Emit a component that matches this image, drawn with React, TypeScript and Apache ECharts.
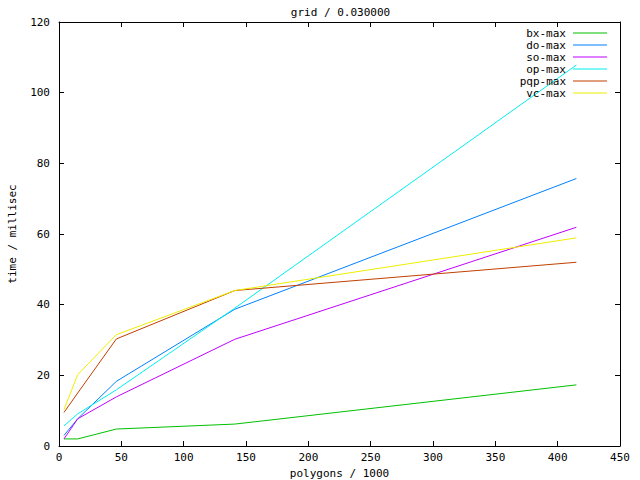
import React, { useEffect, useRef } from "react";
import * as echarts from "echarts";

const polygons = [4, 15, 46, 141, 415];
const seriesNames = ["bx-max", "do-max", "so-max", "op-max", "pqp-max", "vc-max"];
const bxMax = [2, 2, 4.8, 6.2, 17.3];
const doMax = [3, 7.7, 18.3, 38.7, 75.7];
const soMax = [2, 7.7, 13.9, 30.2, 61.9];
const opMax = [5.7, 9.1, 15.9, 39, 107.8];
const pqpMax = [9.5, 15, 30.3, 44, 52];
const vcMax = [10.3, 20.2, 31.5, 44, 58.9];
const seriesColors = ["#00c000", "#0080ff", "#c000ff", "#00eeee", "#c04000", "#eeee00"];

const titleText = "grid / 0.030000";
const xName = "polygons / 1000";
const yName = "time / millisec";

const FONT = "DejaVu Sans Mono";

export default function App() {
  const ref = useRef<HTMLDivElement>(null);
  useEffect(() => {
    document.body.style.margin = "0";
    const chart = echarts.init(ref.current!, null, { renderer: "svg" });
    const allValues = [bxMax, doMax, soMax, opMax, pqpMax, vcMax];
    const tickCommon = {
      inside: true,
      length: 5,
      lineStyle: { color: "#000", width: 1 },
    };
    const lineCommon = { show: true, onZero: false, lineStyle: { color: "#000", width: 1 } };
    chart.setOption({
      animation: false,
      backgroundColor: "#fff",
      grid: { left: 59, right: 20, top: 22, bottom: 34, containLabel: false, outerBoundsMode: "none" },
      graphic: [
        {
          type: "text",
          x: 340.5,
          y: 12,
          style: {
            text: titleText,
            fontFamily: FONT,
            fontSize: 11,
            fill: "#000",
            textAlign: "center",
            textVerticalAlign: "middle",
          },
        },
      ],
      legend: {
        orient: "vertical",
        right: 33,
        top: 27,
        padding: 0,
        align: "right",
        itemWidth: 34,
        itemHeight: 1,
        itemGap: 0,
        icon: "rect",
        data: seriesNames,
        textStyle: {
          fontFamily: FONT,
          fontSize: 11,
          color: "#000",
          lineHeight: 12,
          padding: [0, 2, 0, 0],
        },
      },
      xAxis: [
        {
          type: "value",
          min: 0,
          max: 450,
          interval: 50,
          position: "bottom",
          name: xName,
          nameLocation: "middle",
          nameGap: 21,
          nameTextStyle: { fontFamily: FONT, fontSize: 11, color: "#000", verticalAlign: "top" },
          axisLine: lineCommon,
          axisTick: tickCommon,
          splitLine: { show: false },
          axisLabel: { fontFamily: FONT, fontSize: 11, color: "#000", margin: 6 },
        },
        {
          type: "value",
          min: 0,
          max: 450,
          interval: 50,
          position: "top",
          axisLine: lineCommon,
          axisTick: tickCommon,
          splitLine: { show: false },
          axisLabel: { show: false },
        },
      ],
      yAxis: [
        {
          type: "value",
          min: 0,
          max: 120,
          interval: 20,
          position: "left",
          name: yName,
          nameLocation: "middle",
          nameGap: 41,
          nameRotate: 90,
          nameTextStyle: { fontFamily: FONT, fontSize: 11, color: "#000" },
          axisLine: lineCommon,
          axisTick: tickCommon,
          splitLine: { show: false },
          axisLabel: { fontFamily: FONT, fontSize: 11, color: "#000", margin: 9 },
        },
        {
          type: "value",
          min: 0,
          max: 120,
          interval: 20,
          position: "right",
          axisLine: lineCommon,
          axisTick: tickCommon,
          splitLine: { show: false },
          axisLabel: { show: false },
        },
      ],
      series: seriesNames.map((name, i) => ({
        name,
        type: "line",
        xAxisIndex: 0,
        yAxisIndex: 0,
        symbol: "none",
        color: seriesColors[i],
        lineStyle: { color: seriesColors[i], width: 1 },
        itemStyle: { color: seriesColors[i] },
        data: polygons.map((x, j) => [x, allValues[i][j]]),
      })),
    });
    return () => chart.dispose();
  }, []);
  return <div ref={ref} style={{ width: 640, height: 480 }} />;
}
